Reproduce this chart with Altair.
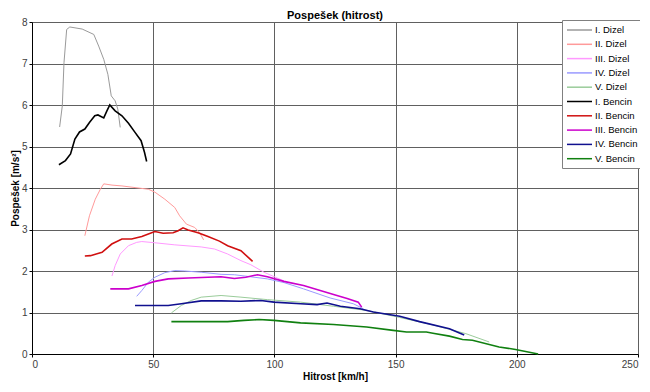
import altair as alt
import pandas as pd

series_names = ["I. Dizel", "II. Dizel", "III. Dizel", "IV. Dizel", "V. Dizel",
                "I. Bencin", "II. Bencin", "III. Bencin", "IV. Bencin", "V. Bencin"]
series_colors = ["#9a9a9a", "#ff9a9a", "#ff99ff", "#9a9aff", "#9acc9a",
                 "#000000", "#d01010", "#cc00cc", "#10108f", "#108010"]

I_dizel_x = [11.4, 12.5, 13.2, 14.3, 15.6, 20.7, 25.5, 27.5, 29.6, 31.3, 32.7, 34.3, 35.4, 36.4]
I_dizel_y = [5.47, 5.98, 7.02, 7.82, 7.88, 7.83, 7.70, 7.42, 7.10, 6.74, 6.22, 6.10, 5.90, 5.46]

II_dizel_x = [21.8, 23.7, 26.1, 28.2, 29.6, 33.0, 37.1, 42.5, 48.0, 50.7, 54.8, 58.9, 60.9, 63.7, 67.1, 69.1, 70.8]
II_dizel_y = [2.85, 3.33, 3.73, 3.97, 4.10, 4.07, 4.05, 4.01, 3.97, 3.90, 3.73, 3.53, 3.33, 3.13, 3.05, 2.93, 2.75]

III_dizel_x = [33.0, 34.3, 36.4, 39.8, 43.2, 45.3, 50.7, 58.9, 69.8, 75.3, 80.7, 86.2, 90.3, 95.7, 101.2, 104.0]
III_dizel_y = [1.88, 2.13, 2.41, 2.61, 2.69, 2.71, 2.68, 2.63, 2.58, 2.53, 2.41, 2.25, 2.15, 1.97, 1.83, 1.76]

IV_dizel_x = [43.2, 45.3, 48.0, 50.7, 54.8, 58.9, 63.0, 69.8, 78.0, 83.5, 97.1, 104.0, 112.0, 123.0, 132.6, 136.7]
IV_dizel_y = [1.39, 1.53, 1.73, 1.85, 1.96, 2.01, 2.00, 1.97, 1.92, 1.91, 1.81, 1.72, 1.57, 1.35, 1.21, 1.09]

V_dizel_x = [57.5, 61.6, 65.7, 69.8, 78.0, 86.2, 97.1, 110.8, 124.4, 138.1, 151.7, 165.4, 179.0, 188.6]
V_dizel_y = [0.99, 1.17, 1.29, 1.37, 1.41, 1.37, 1.31, 1.25, 1.15, 1.05, 0.88, 0.70, 0.49, 0.29]

I_bencin_x = [11.1, 13.8, 15.9, 17.7, 19.6, 21.8, 23.7, 25.9, 27.2, 29.6, 30.9, 32.1, 34.3, 37.1, 39.8, 42.5, 45.0, 46.4, 47.3]
I_bencin_y = [4.56, 4.66, 4.82, 5.18, 5.35, 5.42, 5.58, 5.74, 5.76, 5.69, 5.86, 6.00, 5.86, 5.74, 5.56, 5.34, 5.14, 4.86, 4.64]

II_bencin_x = [21.8, 24.1, 28.9, 32.9, 37.1, 41.1, 45.3, 48.0, 50.7, 54.1, 58.2, 60.3, 62.3, 64.4, 68.5, 72.6, 77.3, 80.7, 86.2, 91.0]
II_bencin_y = [2.36, 2.37, 2.45, 2.65, 2.77, 2.77, 2.83, 2.89, 2.95, 2.91, 2.92, 2.97, 3.04, 2.99, 2.92, 2.83, 2.72, 2.61, 2.49, 2.23]

III_bencin_x = [32.3, 39.8, 45.3, 50.7, 56.2, 64.4, 72.6, 78.0, 83.5, 88.2, 93.0, 97.1, 103.9, 112.0, 125.8, 130.0, 134.6, 136.0]
III_bencin_y = [1.57, 1.57, 1.65, 1.75, 1.81, 1.83, 1.85, 1.86, 1.82, 1.85, 1.91, 1.86, 1.75, 1.65, 1.41, 1.34, 1.25, 1.13]

IV_bencin_x = [42.5, 56.2, 61.6, 69.8, 78.0, 86.2, 94.4, 99.8, 110.8, 117.6, 121.7, 127.2, 135.3, 140.8, 151.7, 159.9, 172.2, 178.3]
IV_bencin_y = [1.17, 1.17, 1.21, 1.28, 1.28, 1.27, 1.29, 1.25, 1.21, 1.19, 1.23, 1.15, 1.09, 1.01, 0.91, 0.78, 0.61, 0.46]

V_bencin_x = [57.5, 69.8, 80.7, 87.5, 93.7, 99.8, 110.8, 124.4, 138.1, 149.0, 154.5, 162.7, 165.4, 172.2, 177.6, 181.7, 192.7, 199.5, 208.8]
V_bencin_y = [0.78, 0.78, 0.78, 0.81, 0.83, 0.81, 0.75, 0.71, 0.65, 0.57, 0.53, 0.53, 0.50, 0.43, 0.35, 0.33, 0.17, 0.11, 0.00]

x_ticks = [0, 50, 100, 150, 200, 250]
y_ticks = [0, 1, 2, 3, 4, 5, 6, 7, 8]

all_x = [I_dizel_x, II_dizel_x, III_dizel_x, IV_dizel_x, V_dizel_x,
         I_bencin_x, II_bencin_x, III_bencin_x, IV_bencin_x, V_bencin_x]
all_y = [I_dizel_y, II_dizel_y, III_dizel_y, IV_dizel_y, V_dizel_y,
         I_bencin_y, II_bencin_y, III_bencin_y, IV_bencin_y, V_bencin_y]

rows = []
for name, xs, ys in zip(series_names, all_x, all_y):
    kind = "Dizel" if "Dizel" in name else "Bencin"
    for i, (xv, yv) in enumerate(zip(xs, ys)):
        rows.append({"series": name, "kind": kind, "x": xv, "y": yv, "i": i})
df = pd.DataFrame(rows)

FONT = "Liberation Sans"
PLOT_W = 606
PLOT_H = 332

color = alt.Color(
    "series:N",
    scale=alt.Scale(domain=series_names, range=series_colors),
    sort=series_names,
    legend=alt.Legend(
        title=None, orient="none", legendX=PLOT_W - 76, legendY=-2,
        fillColor="white", strokeColor="#808080", padding=4,
        symbolType="M-1,0H4", symbolSize=100, symbolStrokeWidth=1.5,
        labelFont=FONT, labelFontSize=9.5, labelColor="#000000",
        rowPadding=3.3, labelOffset=17,
    ),
)

xenc = alt.X("x:Q", scale=alt.Scale(domain=[0, 250], nice=False),
             axis=alt.Axis(values=x_ticks, title="Hitrost [km/h]", titlePadding=2, labelPadding=2))
yenc = alt.Y("y:Q", scale=alt.Scale(domain=[0, 8], nice=False),
             axis=alt.Axis(values=y_ticks, title="Pospešek [m/s²]", titlePadding=1, labelPadding=2))

base = alt.Chart(df)
diz = base.transform_filter(alt.datum.kind == "Dizel").mark_line(strokeWidth=1).encode(
    x=xenc, y=yenc, color=color, order="i:Q")
ben = base.transform_filter(alt.datum.kind == "Bencin").mark_line(strokeWidth=1.6).encode(
    x=xenc, y=yenc, color=color, order="i:Q")

chart = alt.layer(diz, ben).properties(
    width=PLOT_W, height=PLOT_H,
    padding={"left": 24, "top": 14, "right": 2, "bottom": 28},
    autosize=alt.AutoSizeParams(type="none"),
    title=alt.TitleParams("Pospešek (hitrost)", font=FONT, fontSize=11,
                          fontWeight="bold", anchor="middle", offset=-4, color="#000000"),
).configure_view(stroke="transparent").configure_axis(
    grid=True, gridColor="#606060", gridWidth=1,
    domainColor="#000000", tickColor="#000000", tickSize=3,
    labelFont=FONT, labelFontSize=10, labelColor="#404040",
    titleFont=FONT, titleFontSize=10, titleFontWeight="bold", titleColor="#000000",
)

chart.save("out.html", embed_options={"renderer": "svg", "actions": False})
